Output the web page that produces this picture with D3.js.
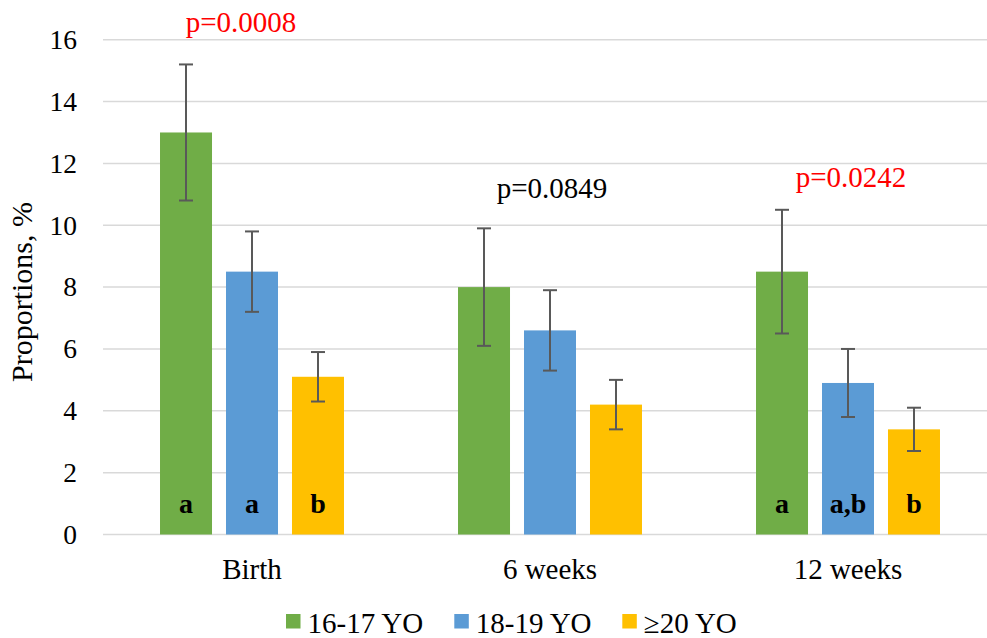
<!DOCTYPE html>
<html>
<head>
<meta charset="utf-8">
<script src="https://cdn.jsdelivr.net/npm/d3@7/dist/d3.min.js"></script>
<style>
  html, body { margin: 0; padding: 0; background: #fff; }
  svg { display: block; }
  text { font-family: "Liberation Serif", "Times New Roman", serif; }
</style>
</head>
<body>
<div id="chart"></div>
<script>
// ---- data ----
const categories = ["Birth", "6 weeks", "12 weeks"];
const seriesNames = ["16-17 YO", "18-19 YO", "\u226520 YO"];
const values16_17 = [13.0, 8.0, 8.5];
const values18_19 = [8.5, 6.6, 4.9];
const values20plus = [5.1, 4.2, 3.4];
const errHigh16_17 = [15.2, 9.9, 10.5];
const errLow16_17 = [10.8, 6.1, 6.5];
const errHigh18_19 = [9.8, 7.9, 6.0];
const errLow18_19 = [7.2, 5.3, 3.8];
const errHigh20plus = [5.9, 5.0, 4.1];
const errLow20plus = [4.3, 3.4, 2.7];
const letters16_17 = ["a", "", "a"];
const letters18_19 = ["a", "", "a,b"];
const letters20plus = ["b", "", "b"];
const pValues = ["p=0.0008", "p=0.0849", "p=0.0242"];
const pSignificant = [true, false, true];
const yTicks = [0, 2, 4, 6, 8, 10, 12, 14, 16];
const yLabel = "Proportions, %";

const colors = ["#70AD47", "#5B9BD5", "#FFC000"];

const seriesVals = [values16_17, values18_19, values20plus];
const seriesHi = [errHigh16_17, errHigh18_19, errHigh20plus];
const seriesLo = [errLow16_17, errLow18_19, errLow20plus];
const seriesLetters = [letters16_17, letters18_19, letters20plus];

const rows = [];
categories.forEach((c, ci) => {
  seriesNames.forEach((s, si) => {
    rows.push({ cat: c, ci, series: s, si,
      value: seriesVals[si][ci], hi: seriesHi[si][ci], lo: seriesLo[si][ci],
      letter: seriesLetters[si][ci] });
  });
});

// ---- layout ----
const W = 987, H = 638;
const plotLeft = 103, plotRight = 997, plotTop = 39.7, plotBottom = 534.5;

const svg = d3.select("#chart").append("svg").attr("width", W).attr("height", H);

const x = d3.scaleBand().domain(categories).range([plotLeft, plotRight]).padding(0);
const xs = d3.scaleBand().domain(seriesNames).range([0, x.bandwidth()])
  .paddingInner(0.212).paddingOuter(0.864);
const y = d3.scaleLinear().domain([0, 16]).range([plotBottom, plotTop]);

// gridlines
svg.append("g").selectAll("line").data(yTicks).join("line")
  .attr("x1", plotLeft).attr("x2", plotRight)
  .attr("y1", d => y(d)).attr("y2", d => y(d))
  .attr("stroke", "#d9d9d9").attr("stroke-width", 1.5);

// y axis labels
const yAxis = d3.axisLeft(y).tickValues(yTicks).tickSize(0).tickPadding(26);
const ya = svg.append("g").attr("transform", `translate(${plotLeft},0)`).call(yAxis);
ya.attr("font-family", null);
ya.select(".domain").remove();
ya.selectAll("text").attr("font-size", 27.5).attr("fill", "#000")
  .style("font-family", '"Liberation Serif", "Times New Roman", serif');

// y axis title
svg.append("text")
  .attr("transform", `translate(32,292) rotate(-90)`)
  .attr("text-anchor", "middle").attr("font-size", 30).attr("fill", "#000")
  .text(yLabel);

// bars
const bars = svg.append("g");
bars.selectAll("rect").data(rows).join("rect")
  .attr("x", d => x(d.cat) + xs(d.series))
  .attr("y", d => y(d.value))
  .attr("width", xs.bandwidth())
  .attr("height", d => y(0) - y(d.value))
  .attr("fill", d => colors[d.si]);

// error bars
const eb = svg.append("g").attr("stroke", "#595959").attr("stroke-width", 2);
const cx = d => x(d.cat) + xs(d.series) + xs.bandwidth() / 2;
eb.selectAll("line.v").data(rows).join("line").attr("class", "v")
  .attr("x1", cx).attr("x2", cx).attr("y1", d => y(d.hi)).attr("y2", d => y(d.lo));
eb.selectAll("line.t").data(rows).join("line").attr("class", "t")
  .attr("x1", d => cx(d) - 7).attr("x2", d => cx(d) + 7)
  .attr("y1", d => y(d.hi)).attr("y2", d => y(d.hi));
eb.selectAll("line.b").data(rows).join("line").attr("class", "b")
  .attr("x1", d => cx(d) - 7).attr("x2", d => cx(d) + 7)
  .attr("y1", d => y(d.lo)).attr("y2", d => y(d.lo));

// letters in bars
svg.append("g").selectAll("text").data(rows.filter(d => d.letter)).join("text")
  .attr("x", cx).attr("y", y(0) - 22)
  .attr("text-anchor", "middle").attr("font-size", 28).attr("font-weight", "bold")
  .attr("fill", "#000").text(d => d.letter);

// category labels
svg.append("g").selectAll("text").data(categories).join("text")
  .attr("x", d => x(d) + x.bandwidth() / 2).attr("y", 579)
  .attr("text-anchor", "middle").attr("font-size", 29).attr("fill", "#000")
  .text(d => d);

// p-values
const pOffsetX = [-11, 2, 3];
const pOffsetY = [32.5, 30, 23];
svg.append("g").selectAll("text").data(pValues).join("text")
  .attr("x", (d, i) => x(categories[i]) + x.bandwidth() / 2 + pOffsetX[i])
  .attr("y", (d, i) => y(d3.max(seriesHi, s => s[i])) - pOffsetY[i])
  .attr("text-anchor", "middle").attr("font-size", 29)
  .attr("fill", (d, i) => pSignificant[i] ? "#FF0000" : "#000")
  .text(d => d);

// legend
const legendX = [286, 454.3, 622.3];
const lg = svg.append("g").selectAll("g").data(seriesNames).join("g")
  .attr("transform", (d, i) => `translate(${legendX[i]},614)`);
lg.append("rect").attr("width", 14.5).attr("height", 14.5).attr("fill", (d, i) => colors[i]);
lg.append("text").attr("x", 21.5).attr("y", 18.7).attr("font-size", 29).attr("fill", "#000")
  .text(d => d);
</script>
</body>
</html>
